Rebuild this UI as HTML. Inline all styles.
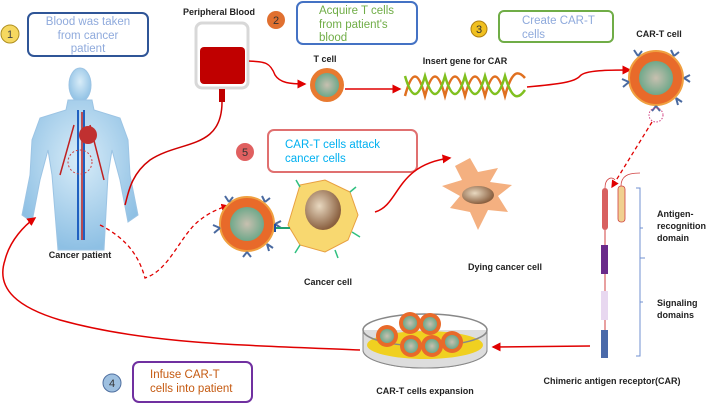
<!DOCTYPE html>
<html><head><meta charset="utf-8"><style>
body{margin:0;background:#fff}
svg{display:block}
text{font-family:"Liberation Sans",sans-serif}
.lbl{font-size:9px;font-weight:bold;fill:#222}
.bx{font-size:11.5px}
</style></head><body>
<svg width="709" height="406" viewBox="0 0 709 406" xmlns="http://www.w3.org/2000/svg">
<defs>
<marker id="ar" markerWidth="6" markerHeight="6" refX="5" refY="3" orient="auto"><path d="M0,0 L6,3 L0,6z" fill="#e00000"/></marker>
<radialGradient id="nuc" cx="0.5" cy="0.5" r="0.5"><stop offset="0" stop-color="#c8c0b0"/><stop offset="1" stop-color="#6fa88a"/></radialGradient>
<radialGradient id="brown" cx="0.4" cy="0.4" r="0.6"><stop offset="0" stop-color="#e8d8c0"/><stop offset="1" stop-color="#8a6040"/></radialGradient>
<radialGradient id="body" cx="0.5" cy="0.4" r="0.6"><stop offset="0" stop-color="#d8ecf8"/><stop offset="1" stop-color="#8ec0e4"/></radialGradient>
<g id="cart">
<circle r="27" fill="#e86a2a" stroke="#f0a040" stroke-width="2"/>
<circle r="17" fill="url(#nuc)"/>
<g stroke="#4a6aa0" stroke-width="2" fill="none">
<path d="M-18,-22 l-4,-6 m4,6 l4,-5 m-4,5"/>
<path d="M18,-22 l-3,-6 m3,6 l5,-4"/>
<path d="M28,0 l6,-3 m-6,3 l6,4"/>
<path d="M-27,4 l-7,-3 m7,3 l-6,5"/>
<path d="M20,20 l6,4 m-6,-4 l2,7"/>
<path d="M0,28 l-4,5 m4,-5 l4,5"/>
</g>
</g>
<g id="minic">
<circle r="11" fill="#e86a2a"/><circle r="7" fill="url(#nuc)"/>
</g>
</defs>

<!-- step 1 -->
<circle cx="10" cy="34" r="9" fill="#f6d860" stroke="#b09020"/>
<text x="10" y="38" font-size="11" text-anchor="middle" fill="#444">1</text>
<rect x="28" y="13" width="120" height="43" rx="6" fill="#fff" stroke="#2f5597" stroke-width="2"/>
<text class="bx" fill="#8faadc" text-anchor="middle"><tspan x="88" y="25">Blood was taken</tspan><tspan x="88" y="39">from cancer</tspan><tspan x="88" y="52">patient</tspan></text>

<!-- human -->
<g>
<ellipse cx="80" cy="85" rx="11" ry="17" fill="url(#body)" stroke="#9cc4e4"/>
<path d="M68,100 L92,100 L94,110 L120,118 L128,140 L130,175 L138,215 L128,222 L120,180 L112,150 L108,175 L104,250 L58,250 L52,175 L48,150 L40,180 L32,222 L22,215 L30,175 L32,140 L40,118 L66,110z" fill="url(#body)" stroke="#9cc4e4"/>
<path d="M78,110 L78,240 M84,110 L84,240" stroke="#2060c0" stroke-width="2"/>
<path d="M82,112 L82,240 M74,125 L60,175 M90,125 L104,180" stroke="#c02020" stroke-width="1.5" fill="none"/>
<ellipse cx="88" cy="135" rx="9" ry="9" fill="#c03030"/>
<circle cx="80" cy="162" r="12" fill="none" stroke="#d04040" stroke-dasharray="2 2"/>
</g>
<text class="lbl" x="80" y="258" text-anchor="middle">Cancer patient</text>

<!-- bag -->
<text class="lbl" x="219" y="15" text-anchor="middle">Peripheral Blood</text>
<rect x="196" y="23" width="52" height="65" rx="6" fill="#fff" stroke="#d8d8d8" stroke-width="3"/>
<rect x="200" y="47" width="45" height="37" rx="4" fill="#c00000"/>
<rect x="219" y="89" width="6" height="13" fill="#c00000"/>
<path d="M222,102 C222,150 180,140 150,160 C130,175 128,195 125,205" stroke="#d00000" stroke-width="1.5" fill="none"/>
<path d="M249,61 C265,62 270,62 275,75 C280,83 290,84 305,84" stroke="#e00000" stroke-width="1.5" fill="none" marker-end="url(#ar)"/>

<!-- step 2 -->
<circle cx="276" cy="20" r="9" fill="#e07030"/>
<text x="276" y="24" font-size="11" text-anchor="middle" fill="#333">2</text>
<rect x="297" y="2" width="120" height="42" rx="6" fill="#fff" stroke="#4472c4" stroke-width="2"/>
<text class="bx" fill="#70ad47"><tspan x="319" y="14">Acquire T cells</tspan><tspan x="319" y="28">from patient's</tspan><tspan x="319" y="41">blood</tspan></text>

<!-- T cell -->
<text class="lbl" x="325" y="62" text-anchor="middle">T cell</text>
<circle cx="327" cy="85" r="17" fill="#e87a30"/>
<circle cx="327" cy="85" r="12" fill="url(#nuc)"/>
<path d="M345,89 L400,89" stroke="#e00000" stroke-width="1.5" marker-end="url(#ar)"/>

<!-- DNA -->
<text class="lbl" x="465" y="64" text-anchor="middle">Insert gene for CAR</text>
<path d="M405,96 C412,70 418,70 425,96 C432,70 438,70 445,96 C452,70 458,70 465,96 C472,70 478,70 485,96 C492,70 498,70 505,96 C512,70 518,70 525,78" stroke="#e07020" stroke-width="2.5" fill="none"/>
<path d="M405,76 C412,100 418,100 425,76 C432,100 438,100 445,76 C452,100 458,100 465,76 C472,100 478,100 485,76 C492,100 498,100 505,76 C512,100 518,100 525,90" stroke="#80c020" stroke-width="2.5" fill="none"/>
<path d="M527,87 C560,84 575,82 580,76 C585,70 610,70 630,70" stroke="#e00000" stroke-width="1.5" fill="none" marker-end="url(#ar)"/>

<!-- step 3 -->
<circle cx="479" cy="29" r="8" fill="#f0c020" stroke="#b08010"/>
<text x="479" y="33" font-size="11" text-anchor="middle" fill="#333">3</text>
<rect x="499" y="11" width="114" height="31" rx="5" fill="#fff" stroke="#70ad47" stroke-width="2"/>
<text class="bx" fill="#8faadc"><tspan x="522" y="24">Create CAR-T</tspan><tspan x="522" y="38">cells</tspan></text>

<text class="lbl" x="659" y="37" text-anchor="middle">CAR-T cell</text>
<use href="#cart" x="656" y="78"/>
<circle cx="656" cy="115" r="7" fill="none" stroke="#d04080" stroke-dasharray="1.5 1.5"/>
<path d="M652,122 L612,187" stroke="#e00000" stroke-width="1.3" stroke-dasharray="4 3" fill="none" marker-end="url(#ar)"/>

<!-- CAR -->
<path d="M605,230 L605,245 M605,274 L605,291 M605,320 L605,330" stroke="#d04040" stroke-width="1"/>
<rect x="602" y="188" width="6" height="42" rx="3" fill="#d86060"/>
<rect x="618" y="186" width="7" height="36" rx="3" fill="#f0d090" stroke="#d04040" stroke-width="0.8"/>
<path d="M605,188 C605,178 612,176 615,180 M621,186 C621,176 628,173 640,173" stroke="#d04040" fill="none" stroke-width="0.8"/>
<rect x="601" y="245" width="7" height="29" fill="#6a2a8a"/>
<rect x="601" y="291" width="7" height="29" fill="#e8d8f0"/>
<rect x="601" y="330" width="7" height="28" fill="#4a6aaa"/>
<path d="M636,188 L640,188 L640,356 L636,356 M640,258 L645,258 M640,228 L643,228 M640,302 L643,302" stroke="#7090d0" fill="none"/>
<text font-size="9" font-weight="bold" fill="#222"><tspan x="657" y="217">Antigen-</tspan><tspan x="657" y="229">recognition</tspan><tspan x="657" y="241">domain</tspan></text>
<text font-size="9" font-weight="bold" fill="#222"><tspan x="657" y="306">Signaling</tspan><tspan x="657" y="318">domains</tspan></text>
<text class="lbl" x="612" y="384" text-anchor="middle">Chimeric antigen receptor(CAR)</text>
<path d="M590,346 L493,347" stroke="#e00000" stroke-width="1.5" marker-end="url(#ar)"/>

<!-- petri dish -->
<ellipse cx="425" cy="350" rx="62" ry="18" fill="#e0e0e0" stroke="#888"/>
<path d="M363,330 L363,350 A62,18 0 0 0 487,350 L487,330" fill="#ddd" stroke="#888"/>
<ellipse cx="425" cy="345" rx="58" ry="14" fill="#f0d020"/>
<ellipse cx="425" cy="330" rx="62" ry="16" fill="none" stroke="#888" stroke-width="1.5"/>
<use href="#minic" x="387" y="336"/><use href="#minic" x="410" y="323"/><use href="#minic" x="430" y="324"/>
<use href="#minic" x="411" y="346"/><use href="#minic" x="432" y="346"/><use href="#minic" x="452" y="342"/>
<text class="lbl" x="425" y="394" text-anchor="middle">CAR-T cells expansion</text>
<path d="M360,350 C250,345 150,345 60,320 C20,308 -5,290 5,260 C10,240 25,225 35,218" stroke="#e00000" stroke-width="1.5" fill="none" marker-end="url(#ar)"/>

<!-- step 4 -->
<circle cx="112" cy="383" r="9" fill="#9ec0e0" stroke="#5070a0"/>
<text x="112" y="387" font-size="11" text-anchor="middle" fill="#333">4</text>
<rect x="133" y="362" width="119" height="40" rx="6" fill="#fff" stroke="#7030a0" stroke-width="2"/>
<text class="bx" fill="#c55a11"><tspan x="150" y="378">Infuse CAR-T</tspan><tspan x="150" y="392">cells into patient</tspan></text>

<!-- dashed to attack -->
<path d="M100,225 C130,240 140,260 145,278 C170,270 180,235 200,220 C210,212 220,208 228,206" stroke="#e00000" stroke-width="1.3" stroke-dasharray="4 3" fill="none" marker-end="url(#ar)"/>

<!-- step 5 -->
<circle cx="245" cy="152" r="9" fill="#e06060"/>
<text x="245" y="156" font-size="11" text-anchor="middle" fill="#333">5</text>
<rect x="268" y="130" width="149" height="42" rx="6" fill="#fff" stroke="#e07070" stroke-width="2"/>
<text class="bx" fill="#00b0f0"><tspan x="285" y="148">CAR-T cells attack</tspan><tspan x="285" y="162">cancer cells</tspan></text>

<use href="#cart" x="247" y="224" transform="scale(1)"/>
<path d="M300,185 L325,180 L350,192 L358,215 L348,240 L325,252 L300,245 L288,225 Z" fill="#f8d870" stroke="#e8a040"/>
<ellipse cx="323" cy="210" rx="18" ry="20" fill="url(#brown)"/>
<path d="M290,228 L276,228" stroke="#20a070" stroke-width="2"/>
<path d="M275,224 L275,232" stroke="#2050a0" stroke-width="2"/>
<g stroke="#30c080" stroke-width="1.5"><path d="M300,245 l-5,8 M335,250 l3,8 M352,232 l8,5 M350,192 l6,-5 M300,187 l-4,-7"/></g>
<text class="lbl" x="328" y="285" text-anchor="middle">Cancer cell</text>
<path d="M375,212 C400,205 395,165 450,158" stroke="#e00000" stroke-width="1.5" fill="none" marker-end="url(#ar)"/>

<!-- dying -->
<path d="M470,158 L478,172 L498,168 L490,182 L512,185 L498,196 L508,212 L488,210 L478,230 L470,212 L450,208 L460,196 L442,186 L462,180 L455,166 Z" fill="#f4b080"/>
<ellipse cx="478" cy="195" rx="16" ry="9" fill="url(#brown)"/>
<text class="lbl" x="505" y="270" text-anchor="middle">Dying cancer cell</text>
</svg>
</body></html>
